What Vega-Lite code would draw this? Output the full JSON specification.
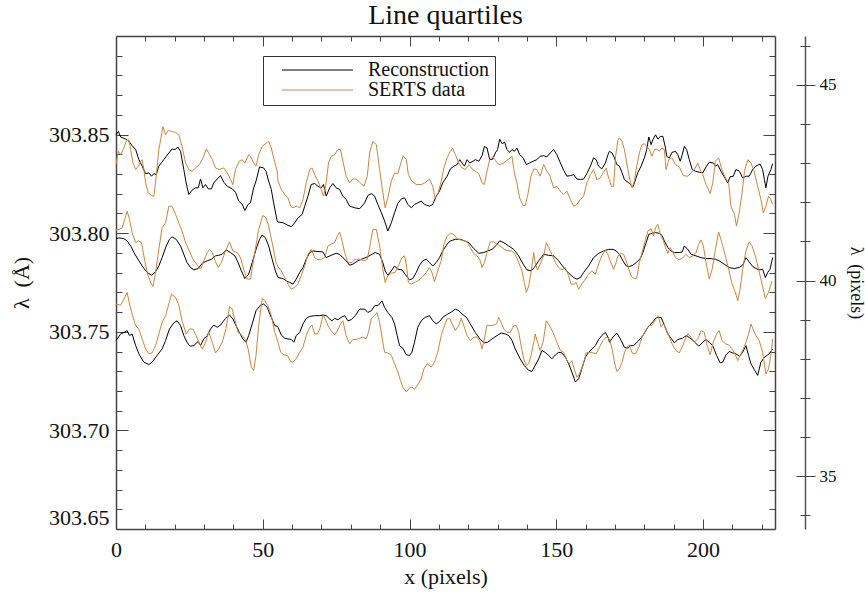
{
"$schema":"https://vega.github.io/schema/vega-lite/v6.json",
"width":659,"height":493,
"autosize":"none",
"padding":{"left":116,"top":36,"right":90,"bottom":65},
"title":{"text":"Line quartiles","fontSize":28,"font":"Liberation Serif","fontWeight":"normal","color":"#111","anchor":"middle","offset":6},
"datasets":{
"ur":[{"x":0,"y":303.8499},{"x":0.8,"y":303.8516},{"x":1.6,"y":303.8488},{"x":3.3,"y":303.8477},{"x":4.4,"y":303.8466},{"x":5.5,"y":303.8444},{"x":6.7,"y":303.8424},{"x":7.8,"y":303.8373},{"x":8.9,"y":303.834},{"x":10.1,"y":303.8302},{"x":11.2,"y":303.8306},{"x":12.1,"y":303.8289},{"x":12.9,"y":303.8302},{"x":13.7,"y":303.8297},{"x":14.6,"y":303.834},{"x":16.3,"y":303.8373},{"x":18,"y":303.8407},{"x":19.1,"y":303.8427},{"x":20.1,"y":303.8424},{"x":21.1,"y":303.8437},{"x":22,"y":303.8415},{"x":23.1,"y":303.8323},{"x":23.9,"y":303.8255},{"x":24.8,"y":303.8196},{"x":25.9,"y":303.8218},{"x":27.1,"y":303.823},{"x":28,"y":303.823},{"x":28.8,"y":303.8275},{"x":29.6,"y":303.823},{"x":30.5,"y":303.8247},{"x":31.4,"y":303.8225},{"x":32.5,"y":303.8225},{"x":33.3,"y":303.8255},{"x":34.5,"y":303.8275},{"x":35.6,"y":303.8292},{"x":36.7,"y":303.8259},{"x":37.9,"y":303.8238},{"x":39.6,"y":303.8225},{"x":40.7,"y":303.8208},{"x":41.8,"y":303.8163},{"x":43,"y":303.8146},{"x":43.9,"y":303.8115},{"x":45,"y":303.8146},{"x":45.8,"y":303.8154},{"x":46.9,"y":303.823},{"x":47.7,"y":303.8264},{"x":48.9,"y":303.8336},{"x":50.3,"y":303.8331},{"x":51.1,"y":303.8314},{"x":52,"y":303.8264},{"x":52.9,"y":303.8222},{"x":53.7,"y":303.8154},{"x":54.9,"y":303.8062},{"x":55.2,"y":303.8057},{"x":56.9,"y":303.8053},{"x":58.6,"y":303.804},{"x":59.7,"y":303.8033},{"x":60.9,"y":303.8053},{"x":62,"y":303.8078},{"x":63.4,"y":303.8095},{"x":64.3,"y":303.8137},{"x":65.4,"y":303.8188},{"x":66.5,"y":303.8247},{"x":67.7,"y":303.8252},{"x":68.8,"y":303.8238},{"x":69.9,"y":303.823},{"x":70.7,"y":303.8247},{"x":71.6,"y":303.8188},{"x":72.8,"y":303.823},{"x":73.9,"y":303.8252},{"x":75,"y":303.823},{"x":76.2,"y":303.8222},{"x":77.3,"y":303.8188},{"x":78.4,"y":303.8171},{"x":79.6,"y":303.8137},{"x":81.3,"y":303.8129},{"x":83,"y":303.8124},{"x":84.7,"y":303.8154},{"x":85.8,"y":303.8191},{"x":87,"y":303.8201},{"x":88.1,"y":303.8188},{"x":89.2,"y":303.8146},{"x":90.4,"y":303.8104},{"x":91.5,"y":303.8062},{"x":92.6,"y":303.8011},{"x":93.8,"y":303.8053},{"x":94.9,"y":303.8104},{"x":96,"y":303.8151},{"x":97.2,"y":303.8174},{"x":98.3,"y":303.8179},{"x":99.4,"y":303.8146},{"x":100.6,"y":303.8129},{"x":101.7,"y":303.8146},{"x":102.8,"y":303.8154},{"x":104,"y":303.8163},{"x":105.1,"y":303.8146},{"x":106.8,"y":303.8137},{"x":107.9,"y":303.8146},{"x":109.1,"y":303.8188},{"x":110.2,"y":303.8213},{"x":111.3,"y":303.8255},{"x":112.8,"y":303.8289},{"x":113.9,"y":303.8326},{"x":115.1,"y":303.834},{"x":116.2,"y":303.8348},{"x":117.1,"y":303.8373},{"x":117.9,"y":303.8356},{"x":118.7,"y":303.834},{"x":119.6,"y":303.8373},{"x":120.5,"y":303.8356},{"x":121.6,"y":303.8365},{"x":122.4,"y":303.8373},{"x":123.6,"y":303.8365},{"x":124.7,"y":303.8393},{"x":125.5,"y":303.844},{"x":126.4,"y":303.8432},{"x":127.3,"y":303.8373},{"x":128.4,"y":303.8376},{"x":129.2,"y":303.8407},{"x":130,"y":303.8424},{"x":130.7,"y":303.8477},{"x":131.5,"y":303.8454},{"x":132.4,"y":303.8461},{"x":133.2,"y":303.8424},{"x":134.1,"y":303.841},{"x":134.9,"y":303.8424},{"x":135.7,"y":303.8415},{"x":136.6,"y":303.8432},{"x":137.5,"y":303.8398},{"x":138.7,"y":303.8382},{"x":139.8,"y":303.8348},{"x":140.9,"y":303.8356},{"x":142.1,"y":303.8365},{"x":143.4,"y":303.8373},{"x":144.5,"y":303.839},{"x":145.7,"y":303.8393},{"x":146.8,"y":303.8387},{"x":147.9,"y":303.8407},{"x":149.1,"y":303.8424},{"x":150.2,"y":303.8398},{"x":151.4,"y":303.8356},{"x":152.5,"y":303.8319},{"x":153.6,"y":303.8289},{"x":154.8,"y":303.8292},{"x":155.9,"y":303.8297},{"x":157,"y":303.8275},{"x":158.2,"y":303.8272},{"x":159.3,"y":303.8275},{"x":160.4,"y":303.8302},{"x":161.6,"y":303.834},{"x":162.7,"y":303.8382},{"x":163.6,"y":303.8373},{"x":164.4,"y":303.834},{"x":165.5,"y":303.8326},{"x":166.7,"y":303.8356},{"x":167.8,"y":303.8407},{"x":168.1,"y":303.8415},{"x":169,"y":303.8407},{"x":169.8,"y":303.8382},{"x":170.6,"y":303.8348},{"x":171.5,"y":303.834},{"x":172.4,"y":303.8306},{"x":173.2,"y":303.8272},{"x":174.4,"y":303.8259},{"x":175.2,"y":303.8247},{"x":176.1,"y":303.8235},{"x":177,"y":303.8272},{"x":177.8,"y":303.8309},{"x":178.9,"y":303.834},{"x":180,"y":303.8382},{"x":180.8,"y":303.8424},{"x":181.5,"y":303.8488},{"x":182.3,"y":303.8449},{"x":182.9,"y":303.8474},{"x":183.8,"y":303.8499},{"x":184.6,"y":303.8477},{"x":185.4,"y":303.8491},{"x":186.3,"y":303.8491},{"x":187.2,"y":303.8432},{"x":187.6,"y":303.839},{"x":188.5,"y":303.8382},{"x":189.4,"y":303.841},{"x":190.6,"y":303.8415},{"x":191.4,"y":303.8398},{"x":192.2,"y":303.8365},{"x":192.9,"y":303.8398},{"x":193.6,"y":303.844},{"x":194.4,"y":303.8424},{"x":195.3,"y":303.8373},{"x":196.3,"y":303.8323},{"x":197.4,"y":303.8314},{"x":198.7,"y":303.8309},{"x":199.9,"y":303.8306},{"x":201,"y":303.8336},{"x":202.1,"y":303.836},{"x":203.5,"y":303.8356},{"x":204.2,"y":303.834},{"x":205,"y":303.8348},{"x":206.1,"y":303.8314},{"x":207.2,"y":303.8286},{"x":208.4,"y":303.8255},{"x":209.2,"y":303.8286},{"x":210.3,"y":303.8289},{"x":211.2,"y":303.8323},{"x":212.4,"y":303.8314},{"x":213.5,"y":303.828},{"x":214.6,"y":303.8289},{"x":215.7,"y":303.8289},{"x":216.9,"y":303.8323},{"x":218,"y":303.834},{"x":219.4,"y":303.8351},{"x":220.3,"y":303.8323},{"x":220.9,"y":303.8272},{"x":221.4,"y":303.823},{"x":222.1,"y":303.8289},{"x":223.1,"y":303.8323},{"x":223.7,"y":303.8353}],
"us":[{"x":0,"y":303.8348},{"x":0.8,"y":303.8415},{"x":1.6,"y":303.8398},{"x":2.7,"y":303.8432},{"x":3.5,"y":303.8466},{"x":4.4,"y":303.8474},{"x":5,"y":303.8424},{"x":5.8,"y":303.8356},{"x":6.7,"y":303.8323},{"x":7.6,"y":303.834},{"x":8.4,"y":303.8365},{"x":8.9,"y":303.8373},{"x":9.5,"y":303.8323},{"x":10.1,"y":303.8255},{"x":11,"y":303.8205},{"x":12.1,"y":303.8191},{"x":12.9,"y":303.8188},{"x":13.7,"y":303.8289},{"x":14.6,"y":303.8424},{"x":16,"y":303.8541},{"x":16.9,"y":303.8499},{"x":17.8,"y":303.8521},{"x":18.9,"y":303.8516},{"x":20.3,"y":303.8511},{"x":21.4,"y":303.8499},{"x":22.5,"y":303.844},{"x":23.7,"y":303.8356},{"x":24.8,"y":303.8323},{"x":25.9,"y":303.8314},{"x":27.1,"y":303.8331},{"x":28.4,"y":303.8348},{"x":29.4,"y":303.8373},{"x":30.8,"y":303.8427},{"x":31.9,"y":303.8398},{"x":32.8,"y":303.8373},{"x":33.9,"y":303.8331},{"x":35.2,"y":303.8323},{"x":36.7,"y":303.8331},{"x":37.9,"y":303.8306},{"x":39,"y":303.8272},{"x":39.8,"y":303.8247},{"x":40.7,"y":303.8323},{"x":42,"y":303.8365},{"x":43,"y":303.8373},{"x":43.9,"y":303.8356},{"x":45.2,"y":303.8398},{"x":46.1,"y":303.8382},{"x":46.9,"y":303.8356},{"x":47.7,"y":303.834},{"x":48.6,"y":303.8398},{"x":49.8,"y":303.844},{"x":51.5,"y":303.8461},{"x":52,"y":303.8466},{"x":52.9,"y":303.8432},{"x":53.7,"y":303.8382},{"x":54.9,"y":303.8314},{"x":55.2,"y":303.8264},{"x":56.3,"y":303.8222},{"x":57.5,"y":303.8196},{"x":58.6,"y":303.8179},{"x":59.5,"y":303.8137},{"x":60.3,"y":303.8129},{"x":61.4,"y":303.8137},{"x":62.6,"y":303.8129},{"x":63.7,"y":303.8171},{"x":64.8,"y":303.8255},{"x":66,"y":303.8323},{"x":66.8,"y":303.8331},{"x":67.7,"y":303.8297},{"x":68.8,"y":303.8264},{"x":69.9,"y":303.8222},{"x":70.7,"y":303.8188},{"x":71.6,"y":303.8255},{"x":72.4,"y":303.8356},{"x":73.3,"y":303.839},{"x":74.5,"y":303.8398},{"x":75.6,"y":303.8424},{"x":76.5,"y":303.8424},{"x":77.3,"y":303.8365},{"x":78.4,"y":303.8289},{"x":79.6,"y":303.8255},{"x":80.7,"y":303.8275},{"x":81.8,"y":303.8275},{"x":83,"y":303.8259},{"x":84.5,"y":303.8238},{"x":85.6,"y":303.8289},{"x":86.4,"y":303.8407},{"x":87.5,"y":303.8466},{"x":88.7,"y":303.8449},{"x":89.8,"y":303.8323},{"x":90.9,"y":303.8205},{"x":91.7,"y":303.8129},{"x":92.6,"y":303.8179},{"x":93.8,"y":303.8264},{"x":94.9,"y":303.8306},{"x":96,"y":303.8302},{"x":96.9,"y":303.8348},{"x":97.8,"y":303.8393},{"x":98.9,"y":303.8373},{"x":99.6,"y":303.8297},{"x":100.8,"y":303.8264},{"x":102.3,"y":303.8247},{"x":104,"y":303.8247},{"x":105.3,"y":303.8255},{"x":106.8,"y":303.8275},{"x":107.9,"y":303.8238},{"x":108.7,"y":303.8179},{"x":109.6,"y":303.8196},{"x":110.8,"y":303.8264},{"x":111.7,"y":303.8331},{"x":112.8,"y":303.8382},{"x":113.9,"y":303.8415},{"x":114.7,"y":303.8432},{"x":115.6,"y":303.8398},{"x":116.8,"y":303.8356},{"x":117.9,"y":303.8331},{"x":119,"y":303.8323},{"x":120.2,"y":303.8348},{"x":121.3,"y":303.8326},{"x":122.4,"y":303.8314},{"x":123.6,"y":303.8302},{"x":124.7,"y":303.8255},{"x":125.5,"y":303.8247},{"x":126.4,"y":303.8314},{"x":127.3,"y":303.8373},{"x":128.4,"y":303.8387},{"x":129.2,"y":303.837},{"x":130.4,"y":303.8348},{"x":131.8,"y":303.8353},{"x":133.2,"y":303.837},{"x":134.3,"y":303.8382},{"x":134.9,"y":303.839},{"x":135.7,"y":303.8306},{"x":136.6,"y":303.8255},{"x":137.5,"y":303.8179},{"x":138.7,"y":303.8141},{"x":139.4,"y":303.8141},{"x":140.2,"y":303.8188},{"x":141.4,"y":303.8289},{"x":142.3,"y":303.8326},{"x":143.4,"y":303.8323},{"x":144.5,"y":303.8289},{"x":145.7,"y":303.8348},{"x":146.8,"y":303.8314},{"x":147.9,"y":303.8289},{"x":149.1,"y":303.823},{"x":150.2,"y":303.8238},{"x":151.4,"y":303.8213},{"x":152.5,"y":303.8196},{"x":153.6,"y":303.8213},{"x":154.8,"y":303.8171},{"x":155.9,"y":303.8137},{"x":157,"y":303.8146},{"x":158.2,"y":303.8171},{"x":159.3,"y":303.8188},{"x":160.4,"y":303.8255},{"x":161.6,"y":303.8297},{"x":162.7,"y":303.8323},{"x":163.8,"y":303.8272},{"x":165,"y":303.828},{"x":165.9,"y":303.8306},{"x":167,"y":303.8331},{"x":167.8,"y":303.828},{"x":168.1,"y":303.8272},{"x":168.7,"y":303.8238},{"x":169.5,"y":303.8238},{"x":170.2,"y":303.839},{"x":171,"y":303.8471},{"x":171.5,"y":303.8483},{"x":172.4,"y":303.8466},{"x":173.2,"y":303.8424},{"x":174,"y":303.8356},{"x":174.9,"y":303.828},{"x":175.8,"y":303.823},{"x":176.6,"y":303.8264},{"x":177.4,"y":303.834},{"x":178.3,"y":303.8407},{"x":179.2,"y":303.8449},{"x":180,"y":303.8454},{"x":180.8,"y":303.844},{"x":181.7,"y":303.8424},{"x":182.6,"y":303.839},{"x":183.4,"y":303.8424},{"x":184.2,"y":303.8427},{"x":185.1,"y":303.8415},{"x":186,"y":303.8432},{"x":186.8,"y":303.8424},{"x":187.4,"y":303.8323},{"x":188.3,"y":303.8373},{"x":189.4,"y":303.8382},{"x":190.6,"y":303.8348},{"x":191.9,"y":303.8336},{"x":193.3,"y":303.8292},{"x":194.8,"y":303.8289},{"x":195.9,"y":303.8306},{"x":197,"y":303.8323},{"x":198.2,"y":303.8356},{"x":199,"y":303.8323},{"x":199.9,"y":303.8297},{"x":201,"y":303.8247},{"x":202.4,"y":303.8201},{"x":203.3,"y":303.8255},{"x":204.2,"y":303.8365},{"x":205.3,"y":303.8382},{"x":206.4,"y":303.8323},{"x":207.6,"y":303.828},{"x":208.7,"y":303.8255},{"x":209.5,"y":303.8137},{"x":210.7,"y":303.8095},{"x":211.4,"y":303.8036},{"x":212.3,"y":303.8104},{"x":213.3,"y":303.8205},{"x":214.1,"y":303.8314},{"x":215.2,"y":303.8373},{"x":216.3,"y":303.8356},{"x":217.4,"y":303.8314},{"x":218.6,"y":303.8238},{"x":219.7,"y":303.8171},{"x":220.5,"y":303.8104},{"x":221.4,"y":303.8137},{"x":222.3,"y":303.8188},{"x":223.1,"y":303.8171},{"x":223.7,"y":303.8146}],
"mr":[{"x":0,"y":303.7972},{"x":1,"y":303.7976},{"x":2.7,"y":303.7972},{"x":3.8,"y":303.7961},{"x":5,"y":303.7935},{"x":6.1,"y":303.7902},{"x":7.8,"y":303.786},{"x":9.5,"y":303.7821},{"x":11,"y":303.7797},{"x":12.1,"y":303.7787},{"x":13.3,"y":303.7801},{"x":14.6,"y":303.7834},{"x":15.7,"y":303.7876},{"x":17.1,"y":303.7935},{"x":18.2,"y":303.7969},{"x":19.1,"y":303.7982},{"x":20.5,"y":303.7969},{"x":22,"y":303.7935},{"x":23.1,"y":303.7893},{"x":24.2,"y":303.7851},{"x":25.4,"y":303.7826},{"x":26.5,"y":303.7814},{"x":28,"y":303.7821},{"x":29.4,"y":303.7848},{"x":31.1,"y":303.786},{"x":32.5,"y":303.7868},{"x":33.9,"y":303.7885},{"x":35,"y":303.7888},{"x":36.2,"y":303.7893},{"x":37.5,"y":303.7915},{"x":39,"y":303.7902},{"x":40.5,"y":303.7885},{"x":41.6,"y":303.7851},{"x":42.7,"y":303.7809},{"x":43.9,"y":303.777},{"x":45.2,"y":303.7792},{"x":46.4,"y":303.7851},{"x":47.7,"y":303.7918},{"x":48.9,"y":303.7969},{"x":49.8,"y":303.7991},{"x":50.9,"y":303.7977},{"x":52,"y":303.7935},{"x":53.2,"y":303.7868},{"x":54.3,"y":303.7809},{"x":55.2,"y":303.7775},{"x":56.9,"y":303.777},{"x":58,"y":303.7758},{"x":59.2,"y":303.775},{"x":60.3,"y":303.7742},{"x":61.4,"y":303.7767},{"x":62.6,"y":303.7801},{"x":63.7,"y":303.7826},{"x":64.8,"y":303.7868},{"x":66,"y":303.7902},{"x":67.1,"y":303.791},{"x":68.8,"y":303.7907},{"x":70.5,"y":303.7905},{"x":71.6,"y":303.7876},{"x":73.3,"y":303.7888},{"x":75,"y":303.7898},{"x":76.2,"y":303.7893},{"x":77.3,"y":303.7876},{"x":78.4,"y":303.786},{"x":79.6,"y":303.7838},{"x":80.7,"y":303.7843},{"x":82.4,"y":303.786},{"x":84.1,"y":303.7871},{"x":85.8,"y":303.7881},{"x":87.2,"y":303.7893},{"x":88.3,"y":303.7902},{"x":89.8,"y":303.7893},{"x":90.9,"y":303.7851},{"x":91.7,"y":303.7809},{"x":92.6,"y":303.7787},{"x":93.8,"y":303.7809},{"x":94.9,"y":303.7834},{"x":96,"y":303.7817},{"x":97.4,"y":303.7814},{"x":98.5,"y":303.7792},{"x":100,"y":303.7763},{"x":101.1,"y":303.777},{"x":102.3,"y":303.7801},{"x":103.4,"y":303.7838},{"x":104.5,"y":303.786},{"x":105.7,"y":303.7868},{"x":106.8,"y":303.7851},{"x":107.9,"y":303.7834},{"x":109.1,"y":303.7851},{"x":110.2,"y":303.7876},{"x":111.3,"y":303.791},{"x":112.8,"y":303.7944},{"x":113.9,"y":303.7961},{"x":115.6,"y":303.7969},{"x":117.3,"y":303.7969},{"x":118.7,"y":303.7961},{"x":120.2,"y":303.7952},{"x":121.9,"y":303.7922},{"x":123.6,"y":303.7898},{"x":125.3,"y":303.7902},{"x":126.6,"y":303.791},{"x":128.1,"y":303.7918},{"x":129.6,"y":303.7939},{"x":130.7,"y":303.7961},{"x":132.1,"y":303.7952},{"x":133.8,"y":303.7935},{"x":135.5,"y":303.7918},{"x":137.2,"y":303.7885},{"x":138.7,"y":303.7843},{"x":140,"y":303.7814},{"x":141.4,"y":303.7809},{"x":142.5,"y":303.7826},{"x":144,"y":303.786},{"x":145.7,"y":303.7893},{"x":147.4,"y":303.7888},{"x":149.1,"y":303.7885},{"x":150.8,"y":303.786},{"x":152.5,"y":303.7826},{"x":154.2,"y":303.7797},{"x":155.9,"y":303.7775},{"x":157,"y":303.7767},{"x":158.2,"y":303.7775},{"x":159.3,"y":303.7801},{"x":161,"y":303.7834},{"x":162.7,"y":303.7876},{"x":164.4,"y":303.7898},{"x":166.1,"y":303.791},{"x":167.8,"y":303.7918},{"x":169.3,"y":303.7918},{"x":170.4,"y":303.791},{"x":171.5,"y":303.7893},{"x":172.7,"y":303.786},{"x":173.8,"y":303.7834},{"x":174.9,"y":303.7831},{"x":176.1,"y":303.7838},{"x":177.2,"y":303.7851},{"x":178.6,"y":303.7871},{"x":179.5,"y":303.7902},{"x":180.6,"y":303.7952},{"x":181.5,"y":303.7994},{"x":182.6,"y":303.7999},{"x":183.8,"y":303.8003},{"x":185.1,"y":303.7999},{"x":186,"y":303.7989},{"x":186.8,"y":303.7961},{"x":188,"y":303.7927},{"x":189.1,"y":303.791},{"x":190.2,"y":303.7902},{"x":191.9,"y":303.7902},{"x":192.9,"y":303.7905},{"x":193.6,"y":303.7935},{"x":194.8,"y":303.7918},{"x":195.9,"y":303.7893},{"x":197.6,"y":303.7885},{"x":199.3,"y":303.7876},{"x":201,"y":303.7871},{"x":202.7,"y":303.7871},{"x":204.2,"y":303.7868},{"x":205.5,"y":303.786},{"x":207.2,"y":303.7843},{"x":208.9,"y":303.7826},{"x":210.6,"y":303.7821},{"x":212.3,"y":303.7826},{"x":213.5,"y":303.7838},{"x":214.6,"y":303.7876},{"x":215.7,"y":303.7855},{"x":216.9,"y":303.7831},{"x":218,"y":303.7821},{"x":219.1,"y":303.7814},{"x":220.3,"y":303.7817},{"x":221.2,"y":303.7775},{"x":222,"y":303.7801},{"x":222.8,"y":303.7817},{"x":223.7,"y":303.7876}],
"ms":[{"x":0,"y":303.8016},{"x":1,"y":303.8019},{"x":2.1,"y":303.8028},{"x":3,"y":303.807},{"x":3.8,"y":303.8112},{"x":4.6,"y":303.807},{"x":5.5,"y":303.8003},{"x":6.7,"y":303.7952},{"x":7.6,"y":303.7961},{"x":8.7,"y":303.7952},{"x":9.5,"y":303.7885},{"x":10.6,"y":303.7801},{"x":11.8,"y":303.775},{"x":12.6,"y":303.773},{"x":13.3,"y":303.7784},{"x":14.6,"y":303.7918},{"x":15.7,"y":303.8028},{"x":16.9,"y":303.8053},{"x":18,"y":303.8137},{"x":19.1,"y":303.8137},{"x":20.3,"y":303.8095},{"x":21.4,"y":303.8053},{"x":22.5,"y":303.8011},{"x":23.7,"y":303.7952},{"x":25,"y":303.791},{"x":26.2,"y":303.7868},{"x":27.7,"y":303.7838},{"x":28.8,"y":303.7817},{"x":29.9,"y":303.786},{"x":31.1,"y":303.7902},{"x":31.9,"y":303.7918},{"x":32.8,"y":303.7902},{"x":33.9,"y":303.7855},{"x":34.8,"y":303.7826},{"x":35.9,"y":303.7851},{"x":37.3,"y":303.791},{"x":38.7,"y":303.7956},{"x":39.8,"y":303.791},{"x":41.3,"y":303.7902},{"x":42.4,"y":303.7876},{"x":43.5,"y":303.7817},{"x":44.7,"y":303.7767},{"x":45.8,"y":303.7767},{"x":46.9,"y":303.7868},{"x":48.6,"y":303.8019},{"x":50,"y":303.809},{"x":51.1,"y":303.8078},{"x":52,"y":303.8036},{"x":53.2,"y":303.7952},{"x":54.5,"y":303.7851},{"x":55.2,"y":303.783},{"x":56.3,"y":303.7809},{"x":57.5,"y":303.7775},{"x":58.6,"y":303.7742},{"x":59.7,"y":303.7716},{"x":60.9,"y":303.7725},{"x":62,"y":303.7742},{"x":63.1,"y":303.7784},{"x":64.3,"y":303.7834},{"x":65.4,"y":303.7893},{"x":66.5,"y":303.7918},{"x":67.7,"y":303.7876},{"x":68.8,"y":303.7865},{"x":69.9,"y":303.7868},{"x":71.1,"y":303.7876},{"x":72.2,"y":303.7935},{"x":73.3,"y":303.7944},{"x":74.5,"y":303.7952},{"x":75.4,"y":303.7986},{"x":76.2,"y":303.8006},{"x":77,"y":303.7961},{"x":77.9,"y":303.7902},{"x":79,"y":303.7851},{"x":80.4,"y":303.7851},{"x":81.5,"y":303.7868},{"x":83,"y":303.7868},{"x":84.5,"y":303.786},{"x":85.6,"y":303.7868},{"x":86.7,"y":303.7952},{"x":87.5,"y":303.8019},{"x":88.7,"y":303.8019},{"x":89.8,"y":303.7935},{"x":90.9,"y":303.7817},{"x":91.7,"y":303.775},{"x":92.6,"y":303.7784},{"x":93.8,"y":303.7797},{"x":95.1,"y":303.7801},{"x":96.2,"y":303.7834},{"x":97.4,"y":303.7876},{"x":98.3,"y":303.7885},{"x":98.9,"y":303.7843},{"x":99.6,"y":303.775},{"x":100.6,"y":303.7742},{"x":101.7,"y":303.775},{"x":102.8,"y":303.7758},{"x":104.2,"y":303.7775},{"x":105.7,"y":303.7801},{"x":106.8,"y":303.7826},{"x":107.6,"y":303.7801},{"x":108.5,"y":303.7753},{"x":109.6,"y":303.7809},{"x":110.8,"y":303.786},{"x":111.7,"y":303.7944},{"x":112.8,"y":303.7986},{"x":113.9,"y":303.7999},{"x":115.1,"y":303.7994},{"x":116.2,"y":303.7972},{"x":117.3,"y":303.7966},{"x":118.5,"y":303.7961},{"x":119.6,"y":303.7956},{"x":120.7,"y":303.7927},{"x":121.9,"y":303.7898},{"x":123,"y":303.7885},{"x":123.9,"y":303.7868},{"x":124.7,"y":303.7826},{"x":125.5,"y":303.7851},{"x":126.4,"y":303.7902},{"x":127.5,"y":303.7956},{"x":128.7,"y":303.7956},{"x":129.8,"y":303.7944},{"x":130.9,"y":303.7935},{"x":132.3,"y":303.7918},{"x":133.8,"y":303.791},{"x":134.9,"y":303.791},{"x":136,"y":303.7893},{"x":137.2,"y":303.7851},{"x":138.3,"y":303.7809},{"x":139.1,"y":303.775},{"x":139.8,"y":303.77},{"x":140.6,"y":303.7733},{"x":141.4,"y":303.7801},{"x":142.3,"y":303.7902},{"x":142.8,"y":303.7851},{"x":143.6,"y":303.7814},{"x":144.5,"y":303.7843},{"x":145.7,"y":303.7885},{"x":146.6,"y":303.7952},{"x":147.4,"y":303.7927},{"x":148.5,"y":303.7893},{"x":149.7,"y":303.7851},{"x":150.8,"y":303.7826},{"x":151.9,"y":303.7814},{"x":153.1,"y":303.7826},{"x":154.2,"y":303.7784},{"x":155,"y":303.7742},{"x":156.1,"y":303.7742},{"x":156.8,"y":303.775},{"x":157.6,"y":303.7716},{"x":158.7,"y":303.7742},{"x":159.9,"y":303.7767},{"x":161,"y":303.7792},{"x":162.1,"y":303.7809},{"x":163.3,"y":303.7792},{"x":164.4,"y":303.7843},{"x":165.5,"y":303.7885},{"x":166.7,"y":303.7915},{"x":167.8,"y":303.7885},{"x":168.1,"y":303.7868},{"x":168.8,"y":303.7843},{"x":169.5,"y":303.7817},{"x":170.2,"y":303.7843},{"x":171,"y":303.7885},{"x":172.1,"y":303.7898},{"x":172.9,"y":303.7893},{"x":173.8,"y":303.786},{"x":174.7,"y":303.7817},{"x":175.6,"y":303.778},{"x":176.6,"y":303.777},{"x":177.4,"y":303.7772},{"x":178.3,"y":303.7851},{"x":179.5,"y":303.7918},{"x":180.4,"y":303.7969},{"x":181.2,"y":303.8011},{"x":182.3,"y":303.8023},{"x":183.1,"y":303.7986},{"x":183.8,"y":303.8028},{"x":184.6,"y":303.8045},{"x":185.4,"y":303.7994},{"x":186.3,"y":303.7969},{"x":187.2,"y":303.7927},{"x":188,"y":303.7898},{"x":188.8,"y":303.7927},{"x":189.7,"y":303.7902},{"x":190.6,"y":303.7876},{"x":191.9,"y":303.7865},{"x":193.1,"y":303.7876},{"x":194.2,"y":303.7893},{"x":195.3,"y":303.7876},{"x":196.5,"y":303.7885},{"x":197.6,"y":303.7902},{"x":198.5,"y":303.7944},{"x":199.3,"y":303.7966},{"x":200.1,"y":303.7935},{"x":201,"y":303.7851},{"x":202.1,"y":303.7767},{"x":203.1,"y":303.7817},{"x":204.2,"y":303.7918},{"x":205.3,"y":303.8006},{"x":206.4,"y":303.7952},{"x":207.6,"y":303.7885},{"x":208.7,"y":303.7817},{"x":209.9,"y":303.7742},{"x":211,"y":303.77},{"x":211.8,"y":303.7657},{"x":212.6,"y":303.7716},{"x":213.5,"y":303.7817},{"x":214.6,"y":303.791},{"x":215.7,"y":303.7956},{"x":216.7,"y":303.7935},{"x":217.8,"y":303.7885},{"x":218.9,"y":303.7817},{"x":220.1,"y":303.7742},{"x":221.2,"y":303.7669},{"x":222.3,"y":303.77},{"x":223.5,"y":303.7758}],
"lr":[{"x":0,"y":303.7456},{"x":1.6,"y":303.7489},{"x":2.7,"y":303.7497},{"x":3.8,"y":303.7506},{"x":4.6,"y":303.7481},{"x":5.5,"y":303.7489},{"x":6.7,"y":303.743},{"x":7.8,"y":303.7388},{"x":9.5,"y":303.7346},{"x":11.2,"y":303.7334},{"x":12.3,"y":303.7346},{"x":14,"y":303.738},{"x":15.7,"y":303.7413},{"x":16.9,"y":303.7456},{"x":18.2,"y":303.7514},{"x":19.7,"y":303.7545},{"x":20.8,"y":303.7556},{"x":22,"y":303.7531},{"x":23.1,"y":303.7481},{"x":24.2,"y":303.7447},{"x":25.2,"y":303.7427},{"x":26.5,"y":303.743},{"x":28,"y":303.7451},{"x":28.8,"y":303.743},{"x":29.9,"y":303.7464},{"x":31.1,"y":303.7481},{"x":32.2,"y":303.7514},{"x":33.3,"y":303.7534},{"x":34.5,"y":303.7523},{"x":35.6,"y":303.7534},{"x":37.3,"y":303.7568},{"x":38.7,"y":303.7585},{"x":39.8,"y":303.7565},{"x":40.9,"y":303.7531},{"x":42,"y":303.7497},{"x":43.2,"y":303.7464},{"x":44.3,"y":303.7447},{"x":45.2,"y":303.7481},{"x":46.4,"y":303.754},{"x":47.7,"y":303.7607},{"x":49.2,"y":303.7635},{"x":50.3,"y":303.7641},{"x":51.5,"y":303.7624},{"x":52.9,"y":303.7573},{"x":54.1,"y":303.7531},{"x":54.9,"y":303.7528},{"x":55.2,"y":303.7523},{"x":56.3,"y":303.7484},{"x":57.5,"y":303.7467},{"x":58.6,"y":303.7464},{"x":59.7,"y":303.7461},{"x":60.6,"y":303.7447},{"x":61.4,"y":303.7481},{"x":62.6,"y":303.7497},{"x":63.7,"y":303.754},{"x":64.8,"y":303.7568},{"x":66,"y":303.7578},{"x":67.7,"y":303.7582},{"x":69.4,"y":303.7582},{"x":70.5,"y":303.7585},{"x":71.6,"y":303.7582},{"x":72.8,"y":303.7565},{"x":73.6,"y":303.7556},{"x":74.5,"y":303.7568},{"x":75.6,"y":303.7561},{"x":76.7,"y":303.7573},{"x":77.9,"y":303.7582},{"x":79,"y":303.7556},{"x":80.1,"y":303.7561},{"x":81.5,"y":303.7582},{"x":83,"y":303.7615},{"x":84.7,"y":303.7615},{"x":85.8,"y":303.7598},{"x":87,"y":303.7607},{"x":88.1,"y":303.7632},{"x":89.4,"y":303.7635},{"x":90.6,"y":303.7657},{"x":91.5,"y":303.7624},{"x":92.6,"y":303.7598},{"x":94,"y":303.7573},{"x":94.9,"y":303.754},{"x":95.8,"y":303.7481},{"x":96.6,"y":303.743},{"x":97.7,"y":303.7417},{"x":98.9,"y":303.7383},{"x":100,"y":303.738},{"x":100.8,"y":303.7396},{"x":101.7,"y":303.7447},{"x":102.8,"y":303.7523},{"x":104,"y":303.7556},{"x":105.3,"y":303.7573},{"x":106.8,"y":303.7582},{"x":107.9,"y":303.7556},{"x":109.1,"y":303.754},{"x":110.2,"y":303.7551},{"x":111.3,"y":303.7573},{"x":113,"y":303.759},{"x":114.5,"y":303.7602},{"x":115.6,"y":303.7615},{"x":116.8,"y":303.7607},{"x":117.9,"y":303.759},{"x":119.4,"y":303.7573},{"x":120.7,"y":303.754},{"x":122.4,"y":303.7497},{"x":124.1,"y":303.7461},{"x":125.5,"y":303.7444},{"x":126.6,"y":303.7447},{"x":128.1,"y":303.7464},{"x":129.8,"y":303.7481},{"x":131.2,"y":303.7494},{"x":132.6,"y":303.7489},{"x":133.8,"y":303.7481},{"x":134.9,"y":303.7456},{"x":136,"y":303.7413},{"x":137.7,"y":303.7363},{"x":139.1,"y":303.7329},{"x":140.6,"y":303.7304},{"x":141.7,"y":303.7299},{"x":142.8,"y":303.7329},{"x":144,"y":303.7363},{"x":145.1,"y":303.7405},{"x":146.2,"y":303.7396},{"x":147.4,"y":303.738},{"x":148.5,"y":303.7363},{"x":149.7,"y":303.7383},{"x":150.8,"y":303.7396},{"x":151.9,"y":303.7393},{"x":153.1,"y":303.7371},{"x":154.2,"y":303.7338},{"x":155.3,"y":303.7296},{"x":156.5,"y":303.7245},{"x":157.6,"y":303.7262},{"x":158.7,"y":303.7312},{"x":159.9,"y":303.7371},{"x":161,"y":303.7396},{"x":162.1,"y":303.7413},{"x":163.3,"y":303.743},{"x":164.4,"y":303.7461},{"x":165.5,"y":303.7481},{"x":166.7,"y":303.7497},{"x":167.8,"y":303.7467},{"x":168.1,"y":303.7447},{"x":169.3,"y":303.7473},{"x":170.6,"y":303.7494},{"x":171.8,"y":303.7464},{"x":173.2,"y":303.7422},{"x":174.4,"y":303.7417},{"x":175.2,"y":303.743},{"x":176.3,"y":303.743},{"x":177.8,"y":303.7451},{"x":179.5,"y":303.7481},{"x":181.2,"y":303.7523},{"x":182.9,"y":303.7551},{"x":184.2,"y":303.7573},{"x":185.7,"y":303.7573},{"x":186.8,"y":303.7534},{"x":188,"y":303.7489},{"x":189.1,"y":303.7467},{"x":190.2,"y":303.7444},{"x":191.4,"y":303.7461},{"x":192.9,"y":303.7467},{"x":194.4,"y":303.7481},{"x":195.9,"y":303.7464},{"x":197.4,"y":303.7444},{"x":198.5,"y":303.7427},{"x":199.9,"y":303.7447},{"x":201,"y":303.7461},{"x":202.1,"y":303.7447},{"x":203.3,"y":303.743},{"x":204.6,"y":303.738},{"x":205.8,"y":303.7343},{"x":206.7,"y":303.7346},{"x":207.8,"y":303.7383},{"x":208.9,"y":303.74},{"x":210.1,"y":303.7393},{"x":211.2,"y":303.7388},{"x":212.4,"y":303.7376},{"x":213.5,"y":303.7396},{"x":214.6,"y":303.743},{"x":215.5,"y":303.738},{"x":216.3,"y":303.7338},{"x":217.4,"y":303.7309},{"x":218.6,"y":303.7279},{"x":219.7,"y":303.7346},{"x":220.9,"y":303.7371},{"x":222,"y":303.7383},{"x":222.8,"y":303.7393},{"x":223.7,"y":303.7413}],
"ls":[{"x":0,"y":303.7641},{"x":1.6,"y":303.7635},{"x":2.7,"y":303.7666},{"x":3.8,"y":303.77},{"x":4.6,"y":303.7641},{"x":5.5,"y":303.759},{"x":6.7,"y":303.7531},{"x":7.8,"y":303.7514},{"x":8.9,"y":303.7464},{"x":10.1,"y":303.7413},{"x":11.2,"y":303.7388},{"x":12.3,"y":303.7393},{"x":13.5,"y":303.743},{"x":14.6,"y":303.7489},{"x":15.7,"y":303.7548},{"x":16.9,"y":303.7582},{"x":18,"y":303.7641},{"x":18.9,"y":303.7691},{"x":20.3,"y":303.7674},{"x":21.4,"y":303.7635},{"x":22.5,"y":303.7556},{"x":23.9,"y":303.7489},{"x":25,"y":303.7514},{"x":26.2,"y":303.7514},{"x":27.3,"y":303.7481},{"x":28.4,"y":303.7439},{"x":29.4,"y":303.7413},{"x":30.5,"y":303.7447},{"x":31.6,"y":303.7497},{"x":32.8,"y":303.7447},{"x":33.9,"y":303.7393},{"x":35,"y":303.7413},{"x":36.2,"y":303.7447},{"x":37.5,"y":303.7518},{"x":38.7,"y":303.7629},{"x":39.6,"y":303.7615},{"x":40.7,"y":303.7548},{"x":41.6,"y":303.7497},{"x":43,"y":303.7481},{"x":44.1,"y":303.7461},{"x":45,"y":303.7413},{"x":46.1,"y":303.7321},{"x":46.9,"y":303.7304},{"x":47.7,"y":303.738},{"x":48.6,"y":303.7531},{"x":49.8,"y":303.7669},{"x":50.7,"y":303.7657},{"x":51.8,"y":303.7632},{"x":52.9,"y":303.7582},{"x":54.1,"y":303.7497},{"x":55.2,"y":303.7447},{"x":56.1,"y":303.7396},{"x":57.2,"y":303.7383},{"x":58.4,"y":303.738},{"x":59.5,"y":303.7349},{"x":60.3,"y":303.7346},{"x":61.4,"y":303.7363},{"x":62.6,"y":303.7396},{"x":63.7,"y":303.7422},{"x":64.8,"y":303.7481},{"x":66,"y":303.7523},{"x":66.8,"y":303.7534},{"x":67.7,"y":303.7489},{"x":68.6,"y":303.7489},{"x":69.4,"y":303.7514},{"x":70.5,"y":303.7582},{"x":71.3,"y":303.7565},{"x":72.2,"y":303.7531},{"x":73.3,"y":303.7506},{"x":74.5,"y":303.7484},{"x":75.6,"y":303.7511},{"x":76.5,"y":303.754},{"x":77.3,"y":303.7556},{"x":78.4,"y":303.7481},{"x":79.6,"y":303.7439},{"x":80.7,"y":303.7461},{"x":81.8,"y":303.7461},{"x":83,"y":303.7467},{"x":84.1,"y":303.7473},{"x":85.2,"y":303.7464},{"x":86,"y":303.7497},{"x":86.9,"y":303.7565},{"x":88.1,"y":303.7582},{"x":88.9,"y":303.7598},{"x":89.8,"y":303.7548},{"x":90.6,"y":303.7473},{"x":91.5,"y":303.7396},{"x":92.6,"y":303.7393},{"x":93.8,"y":303.738},{"x":94.9,"y":303.7338},{"x":96,"y":303.7296},{"x":96.9,"y":303.7254},{"x":97.7,"y":303.722},{"x":98.9,"y":303.7195},{"x":100,"y":303.7215},{"x":100.8,"y":303.722},{"x":101.7,"y":303.7208},{"x":102.8,"y":303.7231},{"x":104,"y":303.7262},{"x":104.9,"y":303.7312},{"x":106,"y":303.7338},{"x":107.4,"y":303.7321},{"x":108.5,"y":303.7346},{"x":109.6,"y":303.7396},{"x":110.8,"y":303.7481},{"x":111.7,"y":303.7523},{"x":112.8,"y":303.7565},{"x":113.7,"y":303.7568},{"x":114.5,"y":303.754},{"x":115.6,"y":303.7506},{"x":116.8,"y":303.7534},{"x":117.6,"y":303.7568},{"x":118.5,"y":303.7531},{"x":119.6,"y":303.7481},{"x":120.7,"y":303.7456},{"x":121.9,"y":303.7473},{"x":123,"y":303.7473},{"x":123.9,"y":303.7456},{"x":124.7,"y":303.7413},{"x":125.5,"y":303.7464},{"x":126.4,"y":303.7534},{"x":127.5,"y":303.7531},{"x":128.7,"y":303.7534},{"x":129.6,"y":303.754},{"x":130.4,"y":303.7573},{"x":131.2,"y":303.7548},{"x":132.1,"y":303.7514},{"x":133.2,"y":303.7497},{"x":134.3,"y":303.7497},{"x":135.5,"y":303.7531},{"x":136.4,"y":303.7531},{"x":137.2,"y":303.7497},{"x":138,"y":303.743},{"x":138.9,"y":303.7363},{"x":139.8,"y":303.7329},{"x":140.6,"y":303.7338},{"x":141.4,"y":303.738},{"x":142.3,"y":303.7447},{"x":142.8,"y":303.7489},{"x":143.6,"y":303.7447},{"x":144.5,"y":303.7405},{"x":145.5,"y":303.7447},{"x":146.6,"y":303.7556},{"x":147.7,"y":303.7531},{"x":148.9,"y":303.7497},{"x":150.2,"y":303.7447},{"x":151.4,"y":303.7405},{"x":152.5,"y":303.7396},{"x":153.6,"y":303.7354},{"x":154.5,"y":303.7338},{"x":155.3,"y":303.7354},{"x":156.1,"y":303.7312},{"x":157,"y":303.727},{"x":157.9,"y":303.7287},{"x":159.1,"y":303.7332},{"x":160.2,"y":303.7393},{"x":161.3,"y":303.7396},{"x":162.5,"y":303.7393},{"x":163.6,"y":303.7388},{"x":164.7,"y":303.7422},{"x":165.9,"y":303.7456},{"x":167,"y":303.7473},{"x":168.1,"y":303.7464},{"x":169,"y":303.7413},{"x":169.8,"y":303.7346},{"x":170.6,"y":303.7299},{"x":171.5,"y":303.7312},{"x":172.4,"y":303.7346},{"x":173.2,"y":303.7393},{"x":174,"y":303.7422},{"x":174.9,"y":303.7434},{"x":175.8,"y":303.7393},{"x":177,"y":303.7388},{"x":178.1,"y":303.7422},{"x":179.2,"y":303.7473},{"x":180.4,"y":303.7506},{"x":181.5,"y":303.7531},{"x":182.6,"y":303.7534},{"x":183.4,"y":303.7551},{"x":184.6,"y":303.7582},{"x":185.1,"y":303.7561},{"x":185.7,"y":303.7523},{"x":186.5,"y":303.754},{"x":187.4,"y":303.7514},{"x":188.5,"y":303.7473},{"x":189.7,"y":303.743},{"x":190.8,"y":303.7405},{"x":191.9,"y":303.7393},{"x":193.1,"y":303.743},{"x":194,"y":303.7467},{"x":194.8,"y":303.7489},{"x":195.9,"y":303.7473},{"x":197,"y":303.7447},{"x":198.2,"y":303.7464},{"x":199.3,"y":303.7506},{"x":200.4,"y":303.7497},{"x":201.2,"y":303.7439},{"x":202.4,"y":303.7383},{"x":203.5,"y":303.7447},{"x":204.6,"y":303.7489},{"x":205.5,"y":303.7506},{"x":206.4,"y":303.7456},{"x":207.6,"y":303.7439},{"x":208.7,"y":303.7434},{"x":209.9,"y":303.7413},{"x":211,"y":303.7383},{"x":211.8,"y":303.7354},{"x":212.6,"y":303.738},{"x":213.5,"y":303.7405},{"x":214.6,"y":303.7447},{"x":215.5,"y":303.7489},{"x":216.3,"y":303.754},{"x":217.1,"y":303.7511},{"x":218,"y":303.7481},{"x":219.1,"y":303.7456},{"x":220.3,"y":303.7396},{"x":221.4,"y":303.7287},{"x":222.3,"y":303.7312},{"x":223.1,"y":303.738},{"x":223.7,"y":303.7464}]
},
"config":{
"view":{"stroke":null},
"font":"Liberation Serif",
"axis":{"labelFont":"Liberation Serif","titleFont":"Liberation Serif","labelFontSize":22,"titleFontSize":22,"titleFontWeight":"normal","labelColor":"#111","titleColor":"#111","domainColor":"#444","tickColor":"#444","domainWidth":1.5,"tickWidth":1,"grid":false},
"legend":{"labelFont":"Liberation Serif","labelFontSize":20,"labelColor":"#111"}
},
"resolve":{"scale":{"y":"independent"},"axis":{"x":"independent","y":"independent"}},
"layer":[
{
"resolve":{"axis":{"x":"independent","y":"independent"}},
"encoding":{
"x":{"field":"x","type":"quantitative","scale":{"domain":[0,224.5],"nice":false,"zero":false},"axis":null},
"y":{"field":"y","type":"quantitative","scale":{"domain":[303.65,303.9],"nice":false,"zero":false},"axis":null}
},
"layer":[
{"data":{"name":"ur"},"mark":{"type":"line","strokeWidth":1},"encoding":{"color":{"datum":"Reconstruction","type":"nominal","scale":{"domain":["Reconstruction","SERTS data"],"range":["#000000","#CD853F"]},"legend":{"title":null,"orient":"none","legendX":147,"legendY":20,"symbolType":"stroke","symbolSize":5041,"symbolStrokeWidth":1.2,"clipHeight":18,"rowPadding":0,"padding":5,"symbolOffset":13,"labelOffset":14,"strokeColor":"#333","fillColor":"white","labelFont":"Liberation Serif","labelFontSize":20}}}},
{"data":{"name":"mr"},"mark":{"type":"line","strokeWidth":1},"encoding":{"color":{"datum":"Reconstruction","type":"nominal"}}},
{"data":{"name":"lr"},"mark":{"type":"line","strokeWidth":1},"encoding":{"color":{"datum":"Reconstruction","type":"nominal"}}},
{"data":{"name":"us"},"mark":{"type":"line","strokeWidth":1},"encoding":{"color":{"datum":"SERTS data","type":"nominal"}}},
{"data":{"name":"ms"},"mark":{"type":"line","strokeWidth":1},"encoding":{"color":{"datum":"SERTS data","type":"nominal"}}},
{"data":{"name":"ls"},"mark":{"type":"line","strokeWidth":1},"encoding":{"color":{"datum":"SERTS data","type":"nominal"}}},
{"data":{"values":[{}]},"mark":{"type":"point","opacity":0},"encoding":{
"x":{"datum":0,"type":"quantitative","axis":{"orient":"bottom","values":[0,50,100,150,200],"format":"d","tickSize":-10,"labelPadding":20,"labelFlush":false,"title":"x (pixels)","titlePadding":6,"domain":true}},
"y":{"datum":303.7,"type":"quantitative","axis":{"orient":"left","values":[303.65,303.7,303.75,303.8,303.85],"format":".2f","tickSize":-12,"labelPadding":19,"labelFlush":true,"title":"λ\u00a0\u00a0(Å)","titlePadding":15,"domain":true}}}},
{"data":{"values":[{}]},"mark":{"type":"point","opacity":0},"encoding":{
"x":{"datum":0,"type":"quantitative","axis":{"orient":"bottom","values":[10,20,30,40,60,70,80,90,110,120,130,140,160,170,180,190,210,220],"tickSize":-5,"labels":false,"domain":false,"title":null}},
"y":{"datum":303.7,"type":"quantitative","axis":{"orient":"left","values":[303.66,303.67,303.68,303.69,303.71,303.72,303.73,303.74,303.76,303.77,303.78,303.79,303.81,303.82,303.83,303.84,303.86,303.87,303.88,303.89],"tickSize":-6,"labels":false,"domain":false,"title":null}}}},
{"data":{"values":[{}]},"mark":{"type":"point","opacity":0},"encoding":{
"x":{"datum":0,"type":"quantitative","axis":{"orient":"top","values":[0,50,100,150,200],"tickSize":-10,"labels":false,"domain":true,"title":null}},
"y":{"datum":303.7,"type":"quantitative","axis":{"orient":"right","values":[303.65,303.7,303.75,303.8,303.85],"tickSize":-12,"labels":false,"domain":true,"title":null}}}},
{"data":{"values":[{}]},"mark":{"type":"point","opacity":0},"encoding":{
"x":{"datum":0,"type":"quantitative","axis":{"orient":"top","values":[10,20,30,40,60,70,80,90,110,120,130,140,160,170,180,190,210,220],"tickSize":-5,"labels":false,"domain":false,"title":null}},
"y":{"datum":303.7,"type":"quantitative","axis":{"orient":"right","values":[303.66,303.67,303.68,303.69,303.71,303.72,303.73,303.74,303.76,303.77,303.78,303.79,303.81,303.82,303.83,303.84,303.86,303.87,303.88,303.89],"tickSize":-6,"labels":false,"domain":false,"title":null}}}},
{"data":{"values":[{}]},"mark":{"type":"rule","color":"#555","strokeWidth":1.5},"encoding":{"x":{"datum":227.5,"type":"quantitative","axis":null},"x2":{"datum":242},"y":{"datum":303.9,"type":"quantitative","axis":null}}},
{"data":{"values":[{}]},"mark":{"type":"rule","color":"#555","strokeWidth":1.5},"encoding":{"x":{"datum":227.5,"type":"quantitative","axis":null},"x2":{"datum":242},"y":{"datum":303.65,"type":"quantitative","axis":null}}}
]
},
{
"data":{"values":[{}]},
"resolve":{"axis":{"y":"independent"}},
"layer":[
{"mark":{"type":"point","opacity":0},"encoding":{"y":{"datum":40,"type":"quantitative","scale":{"domain":[33.65,46.25],"nice":false,"zero":false},"axis":{"orient":"right","offset":30,"values":[35,40,45],"tickSize":10,"labelPadding":4,"labelFontSize":17,"title":"λ\u00a0\u00a0(pixels)","titleFontSize":18,"titlePadding":10,"domain":true,"domainColor":"#555"}}}},
{"mark":{"type":"point","opacity":0},"encoding":{"y":{"datum":40,"type":"quantitative","scale":{"domain":[33.65,46.25],"nice":false,"zero":false},"axis":{"orient":"right","offset":30,"values":[35,40,45],"tickSize":-9,"labels":false,"domain":false,"title":null}}}},
{"mark":{"type":"point","opacity":0},"encoding":{"y":{"datum":40,"type":"quantitative","scale":{"domain":[33.65,46.25],"nice":false,"zero":false},"axis":{"orient":"right","offset":30,"values":[34,36,37,38,39,41,42,43,44,46],"tickSize":5,"labels":false,"domain":false,"title":null}}}},
{"mark":{"type":"point","opacity":0},"encoding":{"y":{"datum":40,"type":"quantitative","scale":{"domain":[33.65,46.25],"nice":false,"zero":false},"axis":{"orient":"right","offset":30,"values":[34,36,37,38,39,41,42,43,44,46],"tickSize":-5,"labels":false,"domain":false,"title":null}}}}
]
}
]
}
